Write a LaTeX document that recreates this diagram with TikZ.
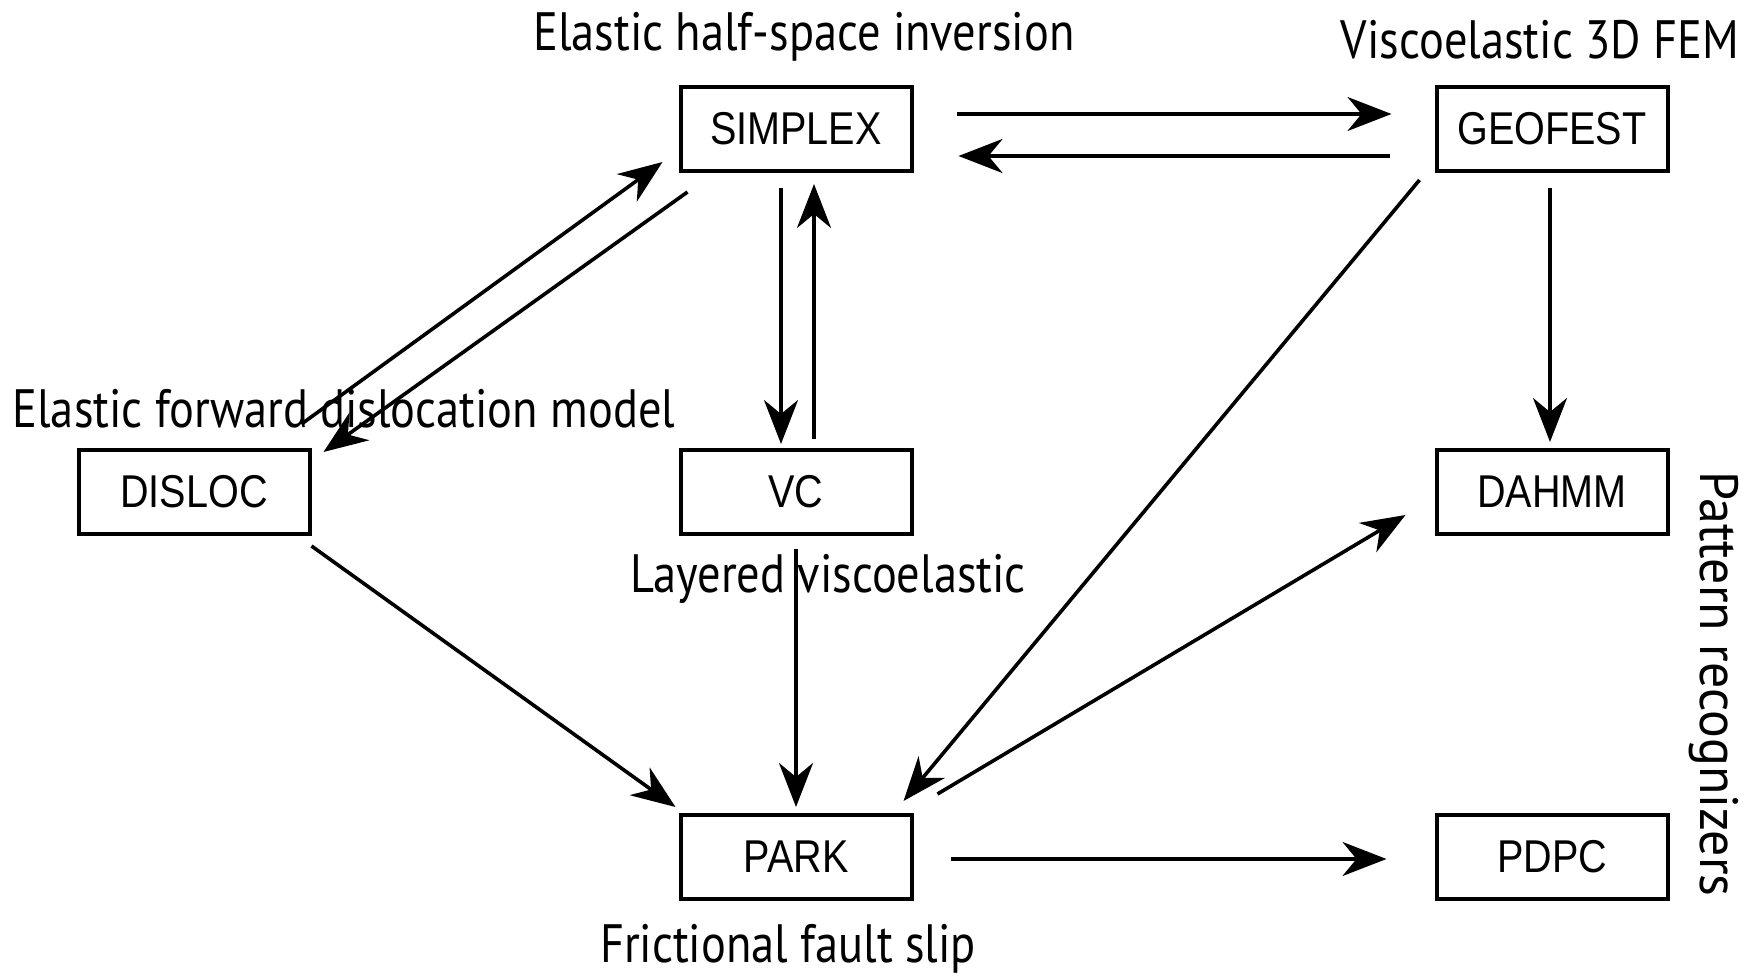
\documentclass[tikz,border=0pt]{standalone}
\usepackage{fontspec}
\usetikzlibrary{arrows.meta}
\newfontfamily\labfont[FakeStretch=0.86]{PT Sans}
\newfontfamily\rotfont[FakeStretch=0.96]{PT Sans}
\newfontfamily\boxfont[FakeStretch=0.86]{Liberation Sans}
\begin{document}
\begin{tikzpicture}[x=1pt,y=-1pt,
  box/.style={draw,line width=4pt,minimum width=231pt,minimum height=84pt,inner sep=0pt,font=\boxfont\fontsize{46}{50}\selectfont},
  lab/.style={inner sep=0pt,font=\labfont\fontsize{54}{58}\selectfont},
  arr/.style={line width=3.6pt,-{Stealth[length=44pt,width=34pt,inset=14pt]}}]
\useasboundingbox (0,0) rectangle (1749,977);
\node[box] (simplex) at (796,129) {SIMPLEX};
\node[box] (geofest) at (1552,129) {GEOFEST};
\node[box] (disloc) at (194,492) {DISLOC};
\node[box] (vc) at (796,492) {VC};
\node[box] (dahmm) at (1552,492) {DAHMM};
\node[box] (park) at (796,857) {PARK};
\node[box] (pdpc) at (1552,857) {PDPC};
\node[lab] (l1) at (804,37) {Elastic half-space inversion};
\node[lab] (l2) at (1540,40) {Viscoelastic 3D FEM};
\node[lab] (l3) at (344,409) {Elastic forward dislocation model};
\node[lab] (l4) at (828,579) {Layered viscoelastic};
\node[lab] (l5) at (788,949) {Frictional fault slip};
\node[lab,font=\rotfont\fontsize{54}{58}\selectfont,rotate=-90] (l6) at (1714,684) {Pattern recognizers};
\draw[arr] ([shift={(43,-15)}]simplex.east) -- ([shift={(-43,-15)}]geofest.west);
\draw[arr] ([shift={(-45,27)}]geofest.west) -- ([shift={(45,27)}]simplex.east);
\draw[arr] ([shift={(-10,-24)}]disloc.north east) -- ([shift={(-16,-11)}]simplex.south west);
\draw[arr] ([shift={(9,19)}]simplex.south west) -- ([shift={(12,4)}]disloc.north east);
\draw[arr] ([shift={(-15,15)}]simplex.south) -- ([shift={(-15,-4)}]vc.north);
\draw[arr] ([shift={(18,-9)}]vc.north) -- ([shift={(18,11)}]simplex.south);
\draw[arr] ([shift={(0,13)}]vc.south) -- ([shift={(0,-6)}]park.north);
\draw[arr] ([shift={(0,10)}]disloc.south east) -- ([shift={(-3,-6)}]park.north west);
\draw[arr] ([shift={(-15,7)}]geofest.south west) -- ([shift={(-10,-12)}]park.north east);
\draw[arr] ([shift={(24,-19)}]park.north east) -- ([shift={(-29,23)}]dahmm.west);
\draw[arr] ([shift={(-2,15)}]geofest.south) -- ([shift={(-2,-6)}]dahmm.north);
\draw[arr] ([shift={(37,2)}]park.east) -- ([shift={(-48,2)}]pdpc.west);
\end{tikzpicture}
\end{document}
